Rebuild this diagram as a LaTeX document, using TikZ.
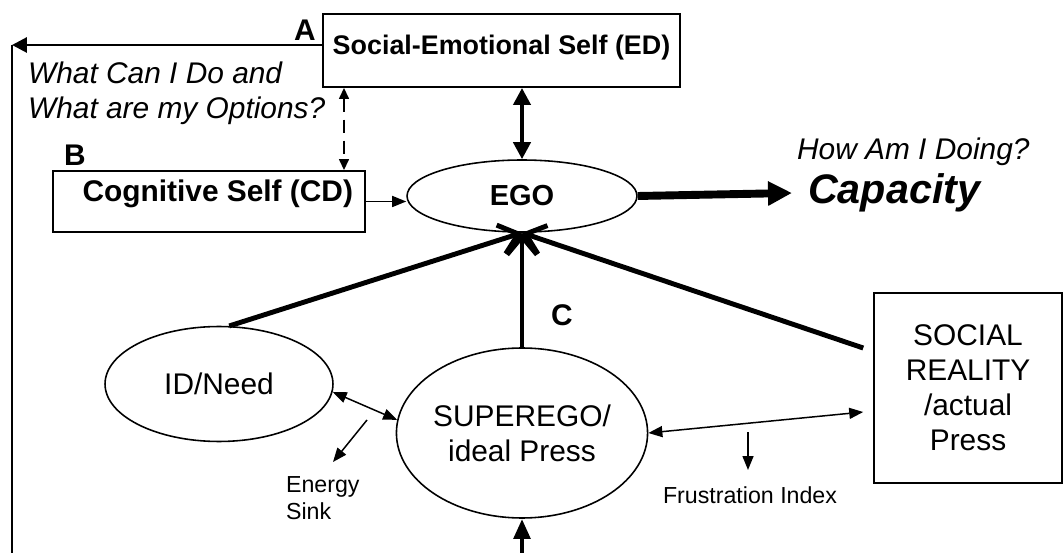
\documentclass[tikz,border=0pt]{standalone}
\usepackage{fontspec}
\setmainfont{Liberation Sans}
\usetikzlibrary{arrows.meta, shapes.geometric}

\begin{document}
\begin{tikzpicture}[
    x=0.02cm, y=-0.02cm,
    selfbox/.style={rectangle, draw, line width=1.1pt, font=\fontsize{15.3}{18}\selectfont\bfseries},
    psyche/.style={ellipse, draw, line width=0.9pt, align=center, inner sep=0pt, font=\fontsize{17}{20}\selectfont},
    arrow/.style={-{Triangle[length=0.28cm, width=0.22cm]}, line width=0.85pt},
    twoway/.style={{Triangle[length=0.28cm, width=0.22cm]}-{Triangle[length=0.28cm, width=0.22cm]}, line width=0.85pt},
    feed/.style={-{Straight Barb[length=0.36cm, width=0.6cm]}, line width=2.8pt},
    letter/.style={font=\fontsize{17}{20}\selectfont\bfseries},
    note/.style={font=\fontsize{13.2}{15}\selectfont, align=left, inner sep=1pt},
    question/.style={font=\fontsize{17}{20}\selectfont\itshape, align=left, inner sep=1pt}
]
\useasboundingbox (0,0) rectangle (1064,553);

% ============ SELVES ============
\node[selfbox, minimum width=7.14cm, minimum height=1.46cm, text depth=6pt] (ed) at (501.5,50.5) {Social-Emotional Self (ED)};
\node[selfbox, font=\fontsize{17}{20}\selectfont\bfseries, minimum width=6.24cm, minimum height=1.22cm,
      text depth=12pt] (cd) at (209,201.5) {\hspace*{10pt}Cognitive Self (CD)};

% ============ PSYCHE ============
\node[psyche, font=\fontsize{16.5}{20}\selectfont\bfseries, minimum width=4.6cm, minimum height=1.44cm] (ego) at (522,196) {EGO};
\node[psyche, minimum width=4.56cm, minimum height=2.3cm] (idneed) at (219,384) {ID/Need};
\node[psyche, minimum width=4.56cm, minimum height=3.4cm] (superego) at (522,433) {SUPEREGO/\\ideal Press};
\node[rectangle, draw, line width=0.9pt, minimum width=3.76cm, minimum height=3.8cm, align=center,
      font=\fontsize{17}{20}\selectfont] (social) at (968,388) {SOCIAL\\REALITY\\/actual\\Press};

% ============ LABELS ============
\node[letter] (lblA) at (305,30) {A};
\node[letter] (lblB) at (75,155) {B};
\node[letter] (lblC) at (562,315) {C};
\node[question, anchor=west] (options) at (26,93) {What Can I Do and\\What are my Options?};
\node[question, anchor=west] (doing) at (795,152) {How Am I Doing?};
\node[font=\fontsize{23.5}{26}\selectfont\bfseries\itshape, anchor=west, inner ysep=1pt, inner xsep=9pt] (capacity) at (792,193) {Capacity};
\node[note, anchor=west] (energy) at (284,498) {Energy\\Sink};
\node[note] (frust) at (750,495) {Frustration Index};

% ============ FREE ENDS ============
\coordinate (corner) at (12,45);
\coordinate (leftfoot) at (12,553);
\coordinate (dashx) at (344,0);
\coordinate (sinkstart) at (367,420);
\coordinate (sinkend) at (333,462);
\coordinate (frustart) at (748,432);
\coordinate (frusend) at (748,470);
\coordinate (pressin) at (522,553);

% ============ ARROWS ============
\draw[-{Triangle[length=0.3cm, width=0.3cm]}, line width=1.7pt] (ed.west |- corner) -- (corner);
\draw[line width=1.1pt] (corner) -- (leftfoot);
\draw[{Triangle[length=0.22cm, width=0.2cm]}-{Triangle[length=0.22cm, width=0.2cm]}, line width=0.85pt,
      dash pattern=on 0.26cm off 0.16cm] (ed.south -| dashx) -- (cd.north -| dashx);
\draw[{Triangle[length=0.34cm, width=0.34cm]}-{Triangle[length=0.34cm, width=0.34cm]}, line width=2.3pt]
      (ego.north |- ed.south) -- (ego.north);
\draw[arrow] (cd.east) -- (cd.east -| ego.west);
\draw[-{Triangle[length=0.48cm, width=0.46cm]}, line width=4.5pt] (ego.east) -- (capacity.west);

% Converging on the ego
\draw[feed] (idneed.80) -- (ego.south);
\draw[feed] (superego.north) -- (ego.south);
\draw[feed] ([shift={(-0.2cm,0.8cm)}]social.west) -- (ego.south);

\draw[twoway] (idneed.-4) -- (superego.174);
\draw[twoway] (superego.east) -- ([shift={(-0.2cm,-0.48cm)}]social.west);
\draw[arrow] (sinkstart) -- (sinkend);
\draw[arrow] (frustart) -- (frusend);
\draw[-{Triangle[length=0.4cm, width=0.32cm]}, line width=2.8pt] (pressin) -- (superego.south);

\end{tikzpicture}
\end{document}
